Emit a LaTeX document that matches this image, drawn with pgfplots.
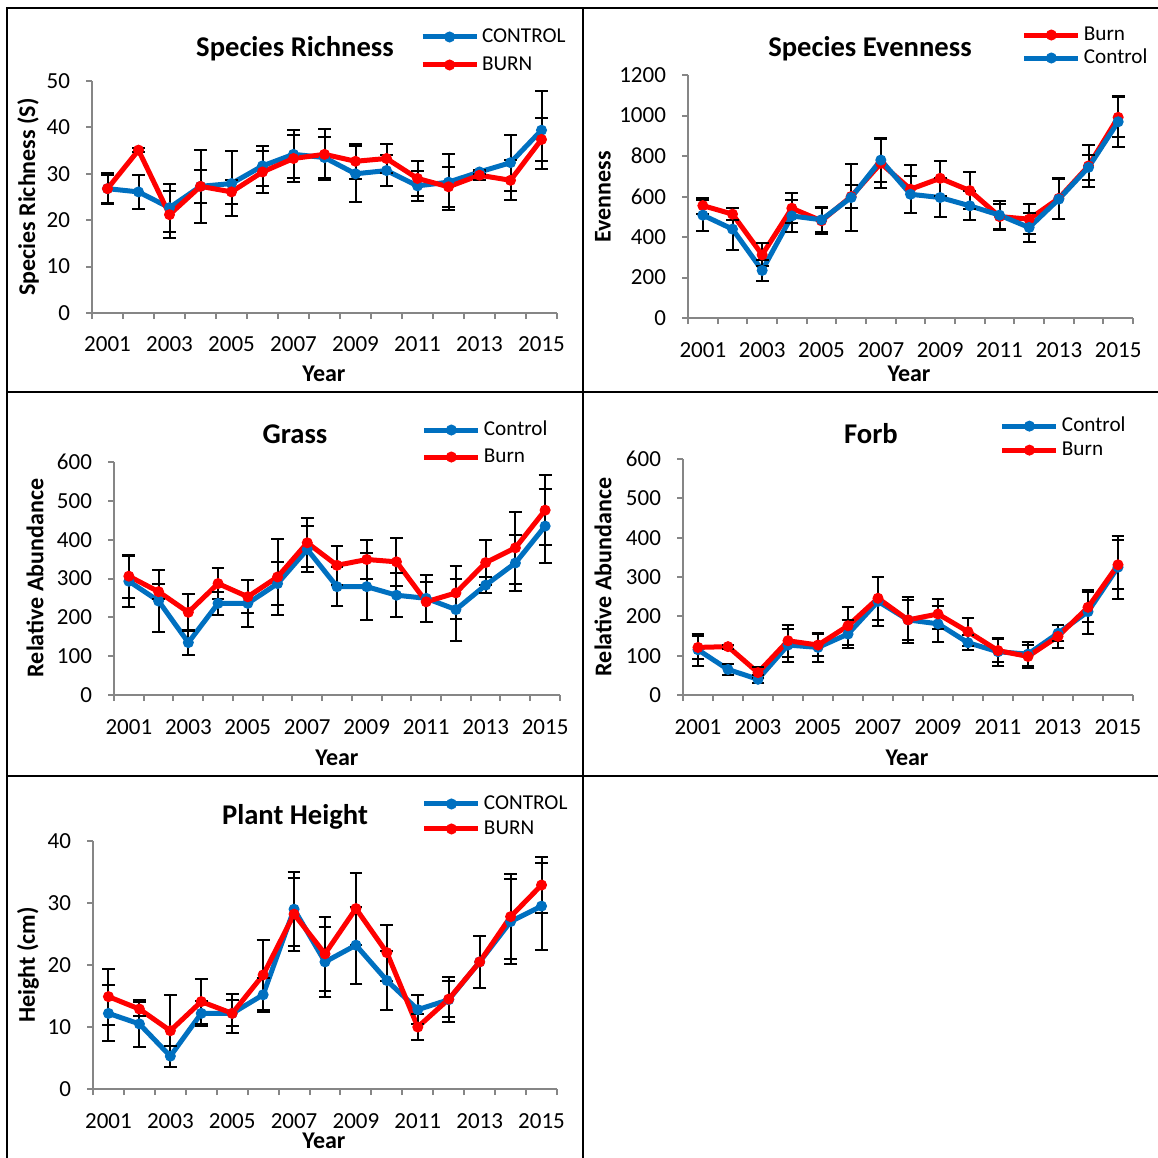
\documentclass[border=0pt]{standalone}
\usepackage{pgfplots}
\pgfplotsset{compat=1.18}
\usepackage{pgfplotstable}
\usepackage{fontspec}
\setmainfont{Carlito}

\definecolor{ctrlblue}{HTML}{0070C0}
\definecolor{burnred}{HTML}{FF0000}
\definecolor{axisgray}{HTML}{868686}

% year, control mean, control error, burn mean, burn error
\pgfplotstableread{
yr   c     ce   b     be
2001 26.8  3.4  26.8  3.0
2002 26.1  3.6  35.1  0.5
2003 22.7  5.2  21.2  5.0
2004 27.3  3.5  27.3  7.8
2005 27.9  7.0  26.1  2.5
2006 31.7  4.3  30.4  4.5
2007 34.2  5.2  33.3  5.0
2008 33.5  4.5  34.2  5.5
2009 30.0  6.1  32.7  3.8
2010 30.7  3.4  33.3  3.2
2011 27.4  3.2  29.0  3.8
2012 28.2  6.0  27.2  4.3
2013 30.4  0.5  29.7  1.0
2014 32.4  6.0  28.6  4.3
2015 39.4  8.4  37.4  4.7
}\richness

\pgfplotstableread{
yr   c    ce   b    be
2001 508  77   555  40
2002 439  105  513  30
2003 235  53   312  57
2004 504  78   542  75
2005 485  62   480  65
2006 595  165  600  57
2007 780  107  764  120
2008 611  92   636  118
2009 595  97   690  87
2010 554  72   629  90
2011 508  72   501  60
2012 447  74   488  75
2013 587  100  591  100
2014 744  62   751  105
2015 969  126  991  99
}\evenness

\pgfplotstableread{
yr   c    ce   b    be
2001 293  66   306  55
2002 242  80   266  20
2003 135  32   213  47
2004 236  30   287  41
2005 236  60   253  43
2006 287  55   304  97
2007 375  59   392  63
2008 279  51   334  51
2009 279  87   349  49
2010 257  56   343  62
2011 249  60   240  51
2012 220  80   263  68
2013 283  20   341  57
2014 340  73   379  92
2015 435  95   476  90
}\grass

\pgfplotstableread{
yr   c    ce   b    be
2001 115  40   121  30
2002 65   15   123  5
2003 40   10   57   14
2004 127  42   138  41
2005 121  37   127  28
2006 155  35   176  48
2007 238  62   246  55
2008 191  50   191  58
2009 181  45   206  38
2010 133  19   161  36
2011 110  36   113  30
2012 104  30   98   30
2013 157  20   149  30
2014 212  56   223  38
2015 325  80   331  62
}\forb

\pgfplotstableread{
yr   c     ce   b     be
2001 12.2  4.5  14.9  4.5
2002 10.5  3.8  12.9  1.2
2003 5.3   1.7  9.4   5.8
2004 12.2  2.0  14.1  3.6
2005 12.2  3.2  12.2  2.1
2006 15.2  2.7  18.4  5.6
2007 29.0  6.0  28.2  5.9
2008 20.5  5.6  21.8  6.0
2009 23.2  6.2  29.1  5.8
2010 17.5  4.7  22.0  4.5
2011 12.8  2.3  10.0  2.1
2012 14.4  3.6  14.5  2.9
2013 20.5  4.2  20.5  4.2
2014 27.0  6.8  27.8  6.8
2015 29.5  7.0  32.9  4.5
}\height

\pgfplotsset{
  panel/.style={
    scale only axis,
    axis x line*=bottom, axis y line*=left,
    axis line style={draw=axisgray, line width=1pt, -},
    xmin=2000.5, xmax=2015.5, ymin=0,
    xtick={2001,2003,...,2015},
    minor xtick={2000.5,2001.5,...,2015.5},
    tick align=outside,
    major tick length=3pt, minor tick length=3pt,
    tick style={axisgray, line width=1pt},
    major x tick style={draw=none},
    /pgf/number format/1000 sep={},
    /pgf/number format/assume math mode=true,
    tick label style={font=\fontsize{11.5}{13}\selectfont, black},
    xticklabel style={yshift=-5.5pt},
    yticklabel style={xshift=-4.5pt},
    clip=false,
    legend cell align=left,
    legend style={draw=none, fill=none, anchor=west, inner sep=0pt, outer sep=0pt,
      xshift=-1.5pt, yshift=-1pt,
      nodes={inner sep=0.5pt, font=\fontsize{10.6}{12}\selectfont, text height=7.5pt, text depth=2pt},
      column sep=1pt},
    legend image code/.code={%
      \draw[mark repeat=2,mark phase=2] plot coordinates {(0pt,0pt) (13.5pt,0pt) (27pt,0pt)};},
  },
  ctrl/.style={color=ctrlblue, line width=2.5pt, mark=*, mark size=2.5pt,
    mark options={draw=ctrlblue, fill=ctrlblue, line width=0.5pt}},
  burn/.style={color=burnred, line width=2.5pt, mark=*, mark size=2.5pt,
    mark options={draw=burnred, fill=burnred, line width=0.5pt}},
  ebar/.style={draw=none, no markers, forget plot,
    error bars/y dir=both, error bars/y explicit,
    error bars/error bar style={draw=black, line width=1pt},
    error bars/error mark options={draw=black, rotate=90, mark size=3.2pt, line width=1pt}},
}

\tikzset{
  ptitle/.style={font=\bfseries\fontsize{14.3}{16}\selectfont},
  plabel/.style={font=\bfseries\fontsize{12}{14}\selectfont},
}

\begin{document}
\begin{tikzpicture}
\useasboundingbox (0pt,0pt) rectangle (579pt,-579pt);

% panel frames
\draw[line width=1pt] (3.5pt,-579pt) -- (3.5pt,-4pt) -- (579pt,-4pt);
\draw[line width=1pt] (291.5pt,-4pt) -- (291.5pt,-579pt);
\draw[line width=1pt] (3.5pt,-196pt) -- (579pt,-196pt);
\draw[line width=1pt] (3.5pt,-388pt) -- (579pt,-388pt);

% Species Richness
\begin{axis}[panel, at={(46pt,-156.5pt)}, anchor=south west, width=232.5pt, height=116pt,
  ymax=50, ytick={0,10,...,50},
  legend style={at={(0.712,1.138)}, row sep=3.5pt}]
\addplot[ctrl] table[x=yr,y=c]{\richness}; \addlegendentry{CONTROL}
\addplot[burn] table[x=yr,y=b]{\richness}; \addlegendentry{BURN}
\addplot[ebar] table[x=yr,y=c,y error=ce]{\richness};
\addplot[ebar] table[x=yr,y=b,y error=be]{\richness};
\end{axis}
\node[ptitle] at (147.5pt,-24.5pt) {Species Richness};
\node[plabel, rotate=90] at (14pt,-98.5pt) {Species Richness (S)};
\node[plabel] at (162pt,-187pt) {Year};

% Species Evenness
\begin{axis}[panel, at={(344pt,-159pt)}, anchor=south west, width=222.5pt, height=121.5pt,
  ymax=1200, ytick={0,200,...,1200},
  legend style={at={(0.757,1.1255)}, row sep=1pt}]
\addplot[burn] table[x=yr,y=b]{\evenness}; \addlegendentry{Burn}
\addplot[ctrl] table[x=yr,y=c]{\evenness}; \addlegendentry{Control}
\addplot[ebar] table[x=yr,y=c,y error=ce]{\evenness};
\addplot[ebar] table[x=yr,y=b,y error=be]{\evenness};
\end{axis}
\node[ptitle] at (435pt,-24.5pt) {Species Evenness};
\node[plabel, rotate=90] at (301.5pt,-98.5pt) {Evenness};
\node[plabel] at (454.5pt,-187pt) {Year};

% Grass
\begin{axis}[panel, at={(57pt,-347.5pt)}, anchor=south west, width=223pt, height=116.5pt,
  ymax=600, ytick={0,100,...,600},
  legend style={at={(0.697,1.088)}, row sep=3pt}]
\addplot[ctrl] table[x=yr,y=c]{\grass}; \addlegendentry{Control}
\addplot[burn] table[x=yr,y=b]{\grass}; \addlegendentry{Burn}
\addplot[ebar] table[x=yr,y=c,y error=ce]{\grass};
\addplot[ebar] table[x=yr,y=b,y error=be]{\grass};
\end{axis}
\node[ptitle] at (147.5pt,-217pt) {Grass};
\node[plabel, rotate=90] at (17.5pt,-289pt) {Relative Abundance};
\node[plabel] at (168.5pt,-379pt) {Year};

% Forb
\begin{axis}[panel, at={(341.5pt,-347.5pt)}, anchor=south west, width=225pt, height=118pt,
  ymax=600, ytick={0,100,...,600},
  legend style={at={(0.711,1.097)}, row sep=1.5pt}]
\addplot[ctrl] table[x=yr,y=c]{\forb}; \addlegendentry{Control}
\addplot[burn] table[x=yr,y=b]{\forb}; \addlegendentry{Burn}
\addplot[ebar] table[x=yr,y=c,y error=ce]{\forb};
\addplot[ebar] table[x=yr,y=b,y error=be]{\forb};
\end{axis}
\node[ptitle] at (435.5pt,-217pt) {Forb};
\node[plabel, rotate=90] at (301.5pt,-288.5pt) {Relative Abundance};
\node[plabel] at (453.5pt,-379pt) {Year};

% Plant Height
\begin{axis}[panel, at={(46.5pt,-544.5pt)}, anchor=south west, width=232pt, height=124pt,
  ymax=40, ytick={0,10,...,40},
  legend style={at={(0.7155,1.107)}, row sep=2pt}]
\addplot[ctrl] table[x=yr,y=c]{\height}; \addlegendentry{CONTROL}
\addplot[burn] table[x=yr,y=b]{\height}; \addlegendentry{BURN}
\addplot[ebar] table[x=yr,y=c,y error=ce]{\height};
\addplot[ebar] table[x=yr,y=b,y error=be]{\height};
\end{axis}
\node[ptitle] at (147.5pt,-408.5pt) {Plant Height};
\node[plabel, rotate=90] at (14pt,-482.5pt) {Height (cm)};
\node[plabel] at (162pt,-570.5pt) {Year};
\end{tikzpicture}
\end{document}
